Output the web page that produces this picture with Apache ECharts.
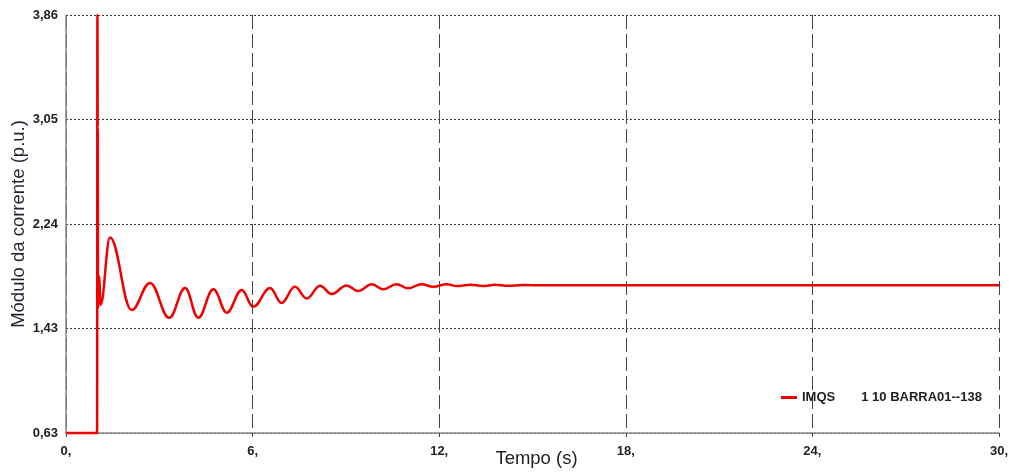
<!DOCTYPE html>
<html>
<head>
<meta charset="utf-8">
<script src="https://cdn.jsdelivr.net/npm/echarts@6/dist/echarts.min.js"></script>
<style>
  html, body { margin: 0; padding: 0; background: #ffffff; }
  #chart { width: 1009px; height: 472px; }
</style>
</head>
<body>
<div id="chart"></div>
<script>
// Current magnitude after the disturbance (time in s, current in p.u.)
const timeS = [0, 1.0, 1.01, 1.02, 1.03, 1.07, 1.11, 1.415, 2.11, 2.70, 3.32, 3.83, 4.25, 4.74, 5.17, 5.65,
  6.02, 6.56, 6.93, 7.36, 7.74, 8.17, 8.54, 9.02, 9.40, 9.83, 10.20, 10.63, 11.00, 11.43, 11.81,
  12.24, 12.56, 13.0, 13.4, 13.8, 14.2, 14.7, 15.5, 30];
const currentPU = [0.63, 0.63, 3.86, 3.0, 1.60, 1.84, 1.62, 2.14, 1.58, 1.79, 1.52, 1.75, 1.52, 1.74, 1.56, 1.735,
  1.605, 1.75, 1.635, 1.76, 1.67, 1.768, 1.704, 1.77, 1.727, 1.78, 1.74, 1.78, 1.748, 1.78, 1.76,
  1.78, 1.765, 1.776, 1.766, 1.775, 1.767, 1.773, 1.771, 1.771];

const yTickLabels = ['0,63', '1,43', '2,24', '3,05', '3,86'];
const xTickLabels = ['0,', '6,', '12,', '18,', '24,', '30,'];
const seriesName = 'IMQS';
const seriesDesc = '1 10 BARRA01--138';

const yMin = 0.63, yMax = 3.86;

const chart = echarts.init(document.getElementById('chart'));
chart.setOption({
  animation: false,
  backgroundColor: '#ffffff',
  grid: { left: 66, right: 10, top: 15, bottom: 39, outerBoundsMode: 'none', containLabel: false },
  legend: {
    left: 776, top: 386,
    icon: 'rect', itemWidth: 16, itemHeight: 3,
    data: [seriesName],
    formatter: name => '{a|' + name + '}{b|' + seriesDesc + '}',
    textStyle: {
      rich: {
        a: { fontFamily: 'Liberation Sans', fontWeight: 'bold', fontSize: 13, color: '#222' },
        b: { fontFamily: 'Liberation Sans', fontWeight: 'bold', fontSize: 13, color: '#222', padding: [0, 0, 0, 26] }
      }
    }
  },
  xAxis: {
    type: 'value', min: 0, max: 30, interval: 6,
    name: 'Tempo (s)', nameLocation: 'middle', nameGap: 16, nameMoveOverlap: false,
    nameTextStyle: { fontFamily: 'Liberation Sans', fontSize: 18.5, color: '#222', padding: [0, 0, 0, 8] },
    axisLine: { lineStyle: { color: '#888', width: 1.5 } },
    axisTick: { show: true, length: 4, lineStyle: { color: '#444' } },
    axisLabel: {
      margin: 12, fontFamily: 'Liberation Sans', fontWeight: 'bold', fontSize: 13, color: '#222',
      formatter: (v, i) => xTickLabels[i]
    },
    splitLine: { show: true, lineStyle: { color: '#444', type: [14, 5], width: 1 } }
  },
  yAxis: {
    type: 'value', min: yMin, max: yMax, interval: (yMax - yMin) / 4,
    name: 'Módulo da corrente (p.u.)', nameLocation: 'middle', nameGap: 38, nameRotate: 90, nameMoveOverlap: false,
    nameTextStyle: { fontFamily: 'Liberation Sans', fontSize: 18.5, color: '#1c2633' },
    axisLine: { show: true, lineStyle: { color: '#888', width: 1.5 } },
    axisTick: { show: false },
    axisLabel: {
      margin: 8, fontFamily: 'Liberation Sans', fontWeight: 'bold', fontSize: 13, color: '#222',
      formatter: (v, i) => yTickLabels[i]
    },
    splitLine: { show: true, lineStyle: { color: '#333', type: [2, 2], width: 1 } }
  },
  series: [{
    name: seriesName,
    type: 'line',
    data: timeS.map((t, i) => [t, currentPU[i]]),
    showSymbol: false,
    smooth: 0.4,
    smoothMonotone: 'x',
    clip: false,
    z: 5,
    lineStyle: { color: '#f00000', width: 2.5 },
    itemStyle: { color: '#f00000' }
  }]
});
</script>
</body>
</html>
